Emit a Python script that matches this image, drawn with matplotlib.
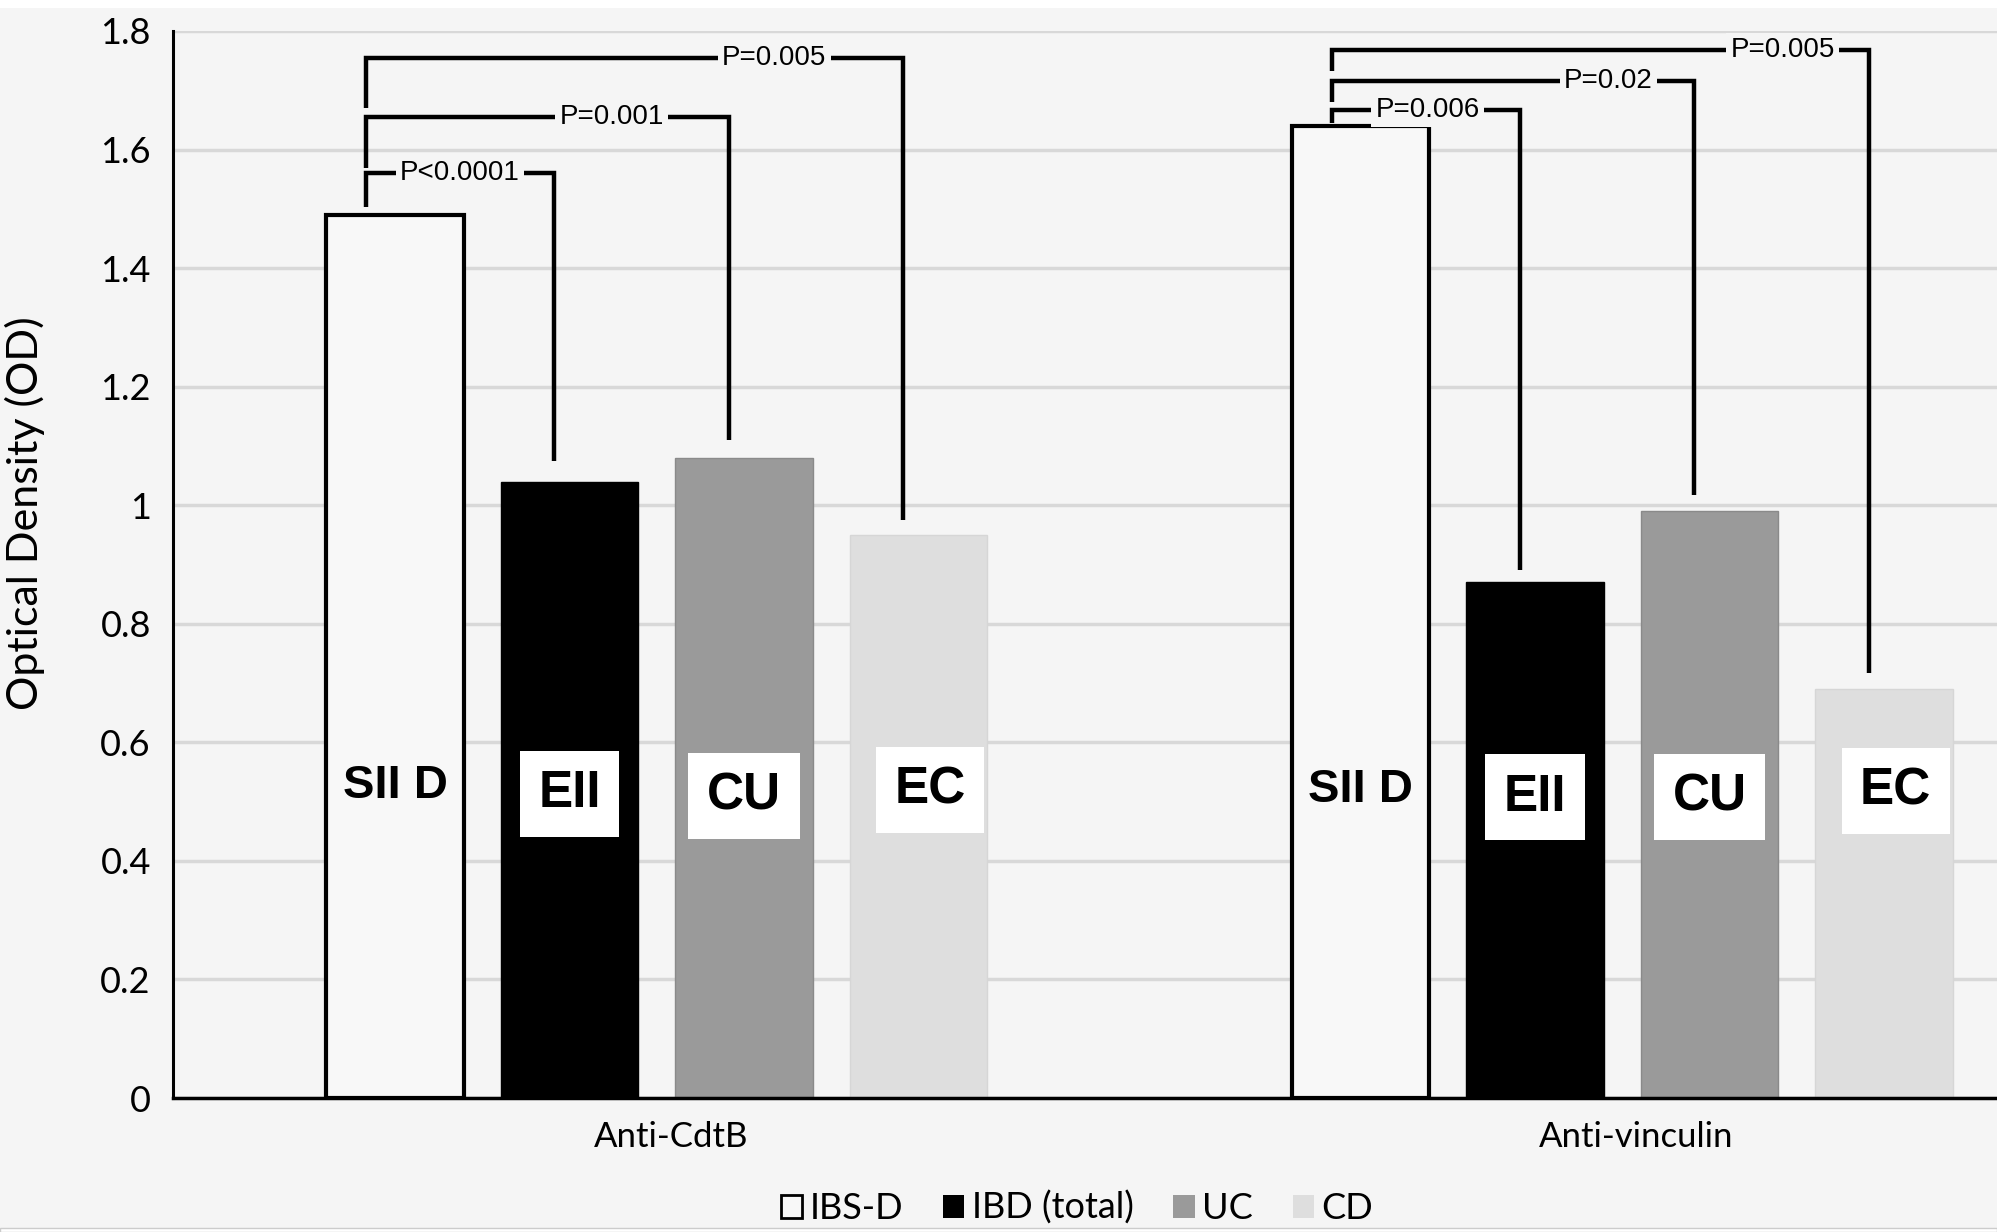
import matplotlib
matplotlib.use("Agg")
import matplotlib.pyplot as plt
from matplotlib.patches import Patch, Rectangle

# ---------------- data ----------------
categories = ["Anti-CdtB", "Anti-vinculin"]
series_names = ["IBS-D", "IBD (total)", "UC", "CD"]
ibs_d = [1.49, 1.64]
ibd_total = [1.04, 0.87]
uc = [1.08, 0.99]
cd = [0.95, 0.69]
bar_labels = ["SII D", "EII", "CU", "EC"]
label_y = [[0.526, 0.513, 0.51, 0.52], [0.52, 0.507, 0.507, 0.518]]
y_ticks = [0, 0.2, 0.4, 0.6, 0.8, 1.0, 1.2, 1.4, 1.6, 1.8]
y_tick_labels = ["0", "0.2", "0.4", "0.6", "0.8", "1", "1.2", "1.4", "1.6", "1.8"]
# group, target series index, label, bracket height, left leg bottom, right leg bottom, label pos fraction
bracket_group = [0, 0, 0, 1, 1, 1]
bracket_target = [1, 2, 3, 1, 2, 3]
bracket_text = ["P<0.0001", "P=0.001", "P=0.005", "P=0.006", "P=0.02", "P=0.005"]
bracket_top = [1.560, 1.655, 1.754, 1.667, 1.716, 1.768]
bracket_left_bottom = [1.503, 1.569, 1.670, 1.645, 1.680, 1.733]
bracket_right_bottom = [1.074, 1.110, 0.975, 0.891, 1.018, 0.717]
bracket_frac = [0.5, 0.677, 0.76, 0.51, 0.764, 0.84]

# ---------------- style ----------------
BG = "#f5f5f5"
fills = ["#f8f8f8", "#000000", "#9a9a9a", "#dedede"]
edges = ["#000000", "#000000", "#8a8a8a", "#d6d6d6"]
edge_w = [3.0, 1.0, 1.0, 1.0]

W, H = 1997, 1232
fig = plt.figure(figsize=(W / 100, H / 100), dpi=100, facecolor=BG)
ax = fig.add_axes([173 / W, 1 - 1098 / H, 1 - 173 / W, (1098 - 31) / H])
ax.set_facecolor(BG)

# white strips at top and bottom of the picture
fig.patches.append(Rectangle((0, 1 - 8 / H), 1, 8 / H, transform=fig.transFigure,
                             facecolor="white", edgecolor="none", zorder=0))
fig.patches.append(Rectangle((0, 0), 1, 4 / H, transform=fig.transFigure,
                             facecolor="white", edgecolor="#cccccc", lw=1, zorder=0))

step = 0.1807
width = 0.1425
series = [ibs_d, ibd_total, uc, cd]
xpos = {}
for i, vals in enumerate(series):
    xs = [c + (i - 1.5) * step for c in range(len(categories))]
    xpos[i] = xs
    ax.bar(xs, vals, width=width, color=fills[i], edgecolor=edges[i],
           linewidth=edge_w[i], zorder=3)

# bar labels
for g in range(len(categories)):
    for i in range(4):
        x = xpos[i][g]
        if i == 0:
            ax.text(x, label_y[g][i], bar_labels[i], ha="center", va="center",
                    fontsize=34, fontweight="bold", family="Liberation Sans",
                    zorder=5)
        else:
            ax.text(x + (0.012 if i == 3 else 0), label_y[g][i], bar_labels[i],
                    ha="center", va="center",
                    fontsize=37, fontweight="bold", family="Liberation Sans",
                    zorder=5,
                    bbox=dict(boxstyle="square,pad=0.36", facecolor="white",
                              edgecolor="none"))

# significance brackets
for k in range(len(bracket_text)):
    g = bracket_group[k]
    t = bracket_target[k]
    xl = xpos[0][g] - width / 2 + 0.29 * width
    xr = xpos[t][g] - 0.016
    yt = bracket_top[k]
    ax.plot([xl, xl, xr, xr],
            [bracket_left_bottom[k], yt, yt, bracket_right_bottom[k]],
            color="black", lw=3.2, solid_joinstyle="miter", solid_capstyle="butt",
            zorder=4)
    xt = xl + bracket_frac[k] * (xr - xl)
    ax.text(xt, yt, bracket_text[k], ha="center", va="center", fontsize=20,
            family="Liberation Sans", zorder=6,
            bbox=dict(boxstyle="square,pad=0.15", facecolor=BG, edgecolor="none"))

# axes
ax.set_ylim(0, 1.8)
ax.set_xlim(-0.501, 1.388)
ax.set_yticks(y_ticks)
ax.set_yticklabels(y_tick_labels, fontsize=26, family="Lato")
ax.set_xticks(range(len(categories)))
ax.set_xticklabels([])
for c, name in enumerate(categories):
    ax.annotate(name, xy=(c, 0), xycoords="data", xytext=(10, -28),
                textcoords="offset points", ha="center", va="center",
                fontsize=25, family="Lato", annotation_clip=False)
ax.tick_params(axis="y", length=0, pad=16)
ax.tick_params(axis="x", length=0)
ax.grid(axis="y", color="#d8d8d8", lw=2.5, zorder=0)
ax.set_axisbelow(True)
for s in ["top", "right"]:
    ax.spines[s].set_visible(False)
ax.spines["left"].set_linewidth(2.2)
ax.spines["bottom"].set_linewidth(2.5)
ax.spines["left"].set_zorder(6)
ax.spines["bottom"].set_zorder(6)
ax.set_ylabel("Optical Density (OD)", fontsize=31, family="Lato")
ax.yaxis.set_label_coords(-0.070, 0.548)

# legend
handles = [Patch(facecolor=fills[i], edgecolor=("black" if i == 0 else fills[i]),
                 linewidth=(2 if i == 0 else 0), label=series_names[i]) for i in range(4)]
fig.legend(handles=handles, loc="center", bbox_to_anchor=(1077 / W, 1 - 1208 / H),
           ncol=4, frameon=False, prop={"family": "Lato", "size": 26},
           handlelength=0.6, handleheight=0.6, handletextpad=0.2,
           columnspacing=1.1)

fig.savefig("out.png", dpi=100, facecolor=BG)
